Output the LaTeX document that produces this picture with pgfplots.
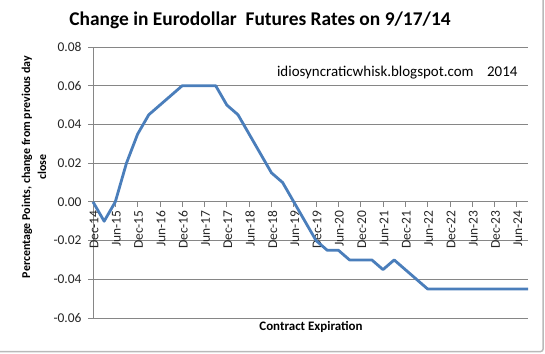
\documentclass[border=0pt]{standalone}
\usepackage{pgfplots}
\pgfplotsset{compat=1.18}
\usepackage{fontspec}
\setmainfont{Carlito}
\definecolor{xlblue}{RGB}{74,126,187}
\definecolor{grid}{RGB}{134,134,134}
\begin{document}
\begin{tikzpicture}[x=1bp,y=1bp]
\useasboundingbox (0,0) rectangle (545,353);
\fill[white] (0,0) rectangle (545,353);
\draw[gray!55, line width=1.5bp, rounded corners=3bp] (543.2,354) -- (543.2,1.3) -- (-1,1.3);
\begin{axis}[
  at={(93bp,35bp)}, anchor=south west,
  scale only axis, width=435bp, height=271bp,
  xmin=0, xmax=39, ymin=-0.06, ymax=0.08,
  axis x line=middle, axis y line=left,
  axis line style={-, draw=grid, line width=0.8bp},
  hide obscured x ticks=false, hide obscured y ticks=false,
  scaled y ticks=false,
  xtick={0,2,...,38},
  xticklabels={Dec-14,Jun-15,Dec-15,Jun-16,Dec-16,Jun-17,Dec-17,Jun-18,Dec-18,Jun-19,Dec-19,Jun-20,Dec-20,Jun-21,Dec-21,Jun-22,Dec-22,Jun-23,Dec-23,Jun-24},
  ytick={-0.06,-0.04,...,0.081},
  yticklabel style={/pgf/number format/fixed, /pgf/number format/fixed zerofill, /pgf/number format/precision=2, font=\fontsize{13.5}{13.5}\selectfont, xshift=-3bp, text=black!85},
  xticklabel style={rotate=90, anchor=east, font=\fontsize{13.5}{13.5}\selectfont, yshift=-1bp, text=black!85},
  /pgf/number format/assume math mode=true,
  ymajorgrids, grid style={draw=grid, line width=0.8bp},
  tick align=outside, major tick length=5bp,
  tick style={draw=grid, line width=0.8bp},
  clip=false,
]
\addplot[xlblue, line width=2.8bp, line join=round] coordinates {
(0,0) (1,-0.01) (2,0) (3,0.02) (4,0.035) (5,0.045) (6,0.05) (7,0.055) (8,0.06) (9,0.06)
(10,0.06) (11,0.06) (12,0.05) (13,0.045) (14,0.035) (15,0.025) (16,0.015) (17,0.01) (18,0) (19,-0.01)
(20,-0.02) (21,-0.025) (22,-0.025) (23,-0.03) (24,-0.03) (25,-0.03) (26,-0.035) (27,-0.03) (28,-0.035) (29,-0.04)
(30,-0.045) (31,-0.045) (32,-0.045) (33,-0.045) (34,-0.045) (35,-0.045) (36,-0.045) (37,-0.045) (38,-0.045) (39,-0.045)
};
\end{axis}
\node[font=\bfseries\fontsize{19.5}{22}\selectfont] at (260,333) {Change in Eurodollar\ \ Futures Rates on 9/17/14};
\node[font=\fontsize{15}{17}\selectfont, anchor=east] at (521,280) {idiosyncraticwhisk.blogspot.com\ \ \ \ 2014};
\node[font=\bfseries\fontsize{12}{16}\selectfont, rotate=90, align=center] at (34,186) {Percentage Points, change from previous day\\close};
\node[font=\bfseries\fontsize{13}{15}\selectfont] at (311,26) {Contract Expiration};
\end{tikzpicture}
\end{document}
